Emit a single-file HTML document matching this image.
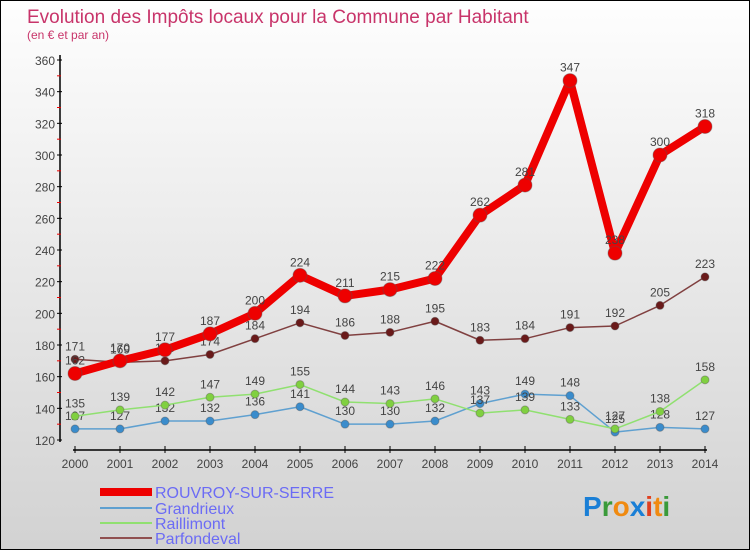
<!DOCTYPE html>
<html><head><meta charset="utf-8"><style>
body{margin:0}
#c{width:750px;height:550px;position:relative;box-sizing:border-box;border:1px solid #000;background:linear-gradient(#fefefe,#d2d2d2);font-family:"Liberation Sans",sans-serif;overflow:hidden}
</style></head><body>
<div id="c">
<svg id="s" width="750" height="550" style="position:absolute;left:-1px;top:-1px">
<text x="27" y="23" font-size="19" fill="#c8346a">Evolution des Impôts locaux pour la Commune par Habitant</text>
<text x="27" y="39" font-size="12" fill="#c8346a">(en € et par an)</text>
<g id="axes"></g><g id="series"></g>
<g>
<line x1="100" y1="492" x2="152" y2="492" stroke="#e00" stroke-width="8"/>
<text x="155" y="498" font-size="16" fill="#6b6bf5">ROUVROY-SUR-SERRE</text>
<line x1="100" y1="508" x2="152" y2="508" stroke="#5fa0d0" stroke-width="2"/>
<text x="155" y="514" font-size="16" fill="#6b6bf5">Grandrieux</text>
<line x1="100" y1="523" x2="152" y2="523" stroke="#90e070" stroke-width="2"/>
<text x="155" y="529" font-size="16" fill="#6b6bf5">Raillimont</text>
<line x1="100" y1="538" x2="152" y2="538" stroke="#905050" stroke-width="2"/>
<text x="155" y="544" font-size="16" fill="#6b6bf5">Parfondeval</text>
</g>
<text x="583" y="516" font-size="28" font-weight="bold"><tspan fill="#1a7fd6">P</tspan><tspan fill="#3a9a3a">r</tspan><tspan fill="#f08a10">o</tspan><tspan fill="#1a7fd6">x</tspan><tspan fill="#e04020">i</tspan><tspan fill="#f08a10">t</tspan><tspan fill="#3a9a3a">i</tspan></text>
</svg>
</div>
<script>
const years=[2000,2001,2002,2003,2004,2005,2006,2007,2008,2009,2010,2011,2012,2013,2014];
const rouvroy=[162,170,177,187,200,224,211,215,222,262,281,347,238,300,318];
const grandrieux=[127,127,132,132,136,141,130,130,132,143,149,148,125,128,127];
const raillimont=[135,139,142,147,149,155,144,143,146,137,139,133,127,138,158];
const parfondeval=[171,169,170,174,184,194,186,188,195,183,184,191,192,205,223];
const yTicks=[120,140,160,180,200,220,240,260,280,300,320,340,360];
const NS="http://www.w3.org/2000/svg";
const x=i=>75+i*45;
const y=v=>440-(v-120)*380/240;
function mk(t,a,p){const e=document.createElementNS(NS,t);for(const k in a)e.setAttribute(k,a[k]);p.appendChild(e);return e;}
const ax=document.getElementById('axes');
let l=mk('line',{x1:60,y1:55,x2:60,y2:442,stroke:'#000','stroke-width':1.5},ax);


l=mk('line',{x1:73,y1:450,x2:707,y2:450,stroke:'#000','stroke-width':1.5},ax);


yTicks.forEach((v,i)=>{
  mk('line',{x1:57,y1:y(v),x2:62,y2:y(v),stroke:'#000'},ax);
  if(i<yTicks.length-1)mk('line',{x1:57,y1:y(v+10),x2:61,y2:y(v+10),stroke:'#e00'},ax);
  const t=mk('text',{x:55,y:y(v)+5,'font-size':12,fill:'#444','text-anchor':'end'},ax);
  t.textContent=v;
  
  
});
years.forEach((yr,i)=>{
  mk('line',{x1:x(i),y1:446,x2:x(i),y2:453,stroke:'#000'},ax);
  const t=mk('text',{x:x(i),y:468,'font-size':12,fill:'#444','text-anchor':'middle'},ax);
  t.textContent=yr;
  
  
});
const sg=document.getElementById('series');
function draw(vals,name,col,w,r,dot){
  const g=mk('g',{},sg);
  
  
  const p=mk('polyline',{points:vals.map((v,i)=>x(i)+','+y(v)).join(' '),fill:'none',stroke:col,'stroke-width':w,'stroke-linejoin':'round'},g);
  
  
  vals.forEach((v,i)=>{
    const c=mk('circle',{cx:x(i),cy:y(v),r:r,fill:dot,stroke:'#555','stroke-opacity':0.4},g);
    
    
    const t=mk('text',{x:x(i),y:y(v)-9,'font-size':12,fill:'#444','text-anchor':'middle'},g);
    t.textContent=v;
    
    
  });
}
draw(grandrieux,'grandrieux','#5fa0d0',1.5,4,'#3a8ccc');
draw(raillimont,'raillimont','#90e070',1.5,4,'#80d040');
draw(parfondeval,'parfondeval','#804040',1.5,4,'#6a1a1a');
draw(rouvroy,'rouvroy','#e00',8,7,'#e00');
</script>
</body></html>
